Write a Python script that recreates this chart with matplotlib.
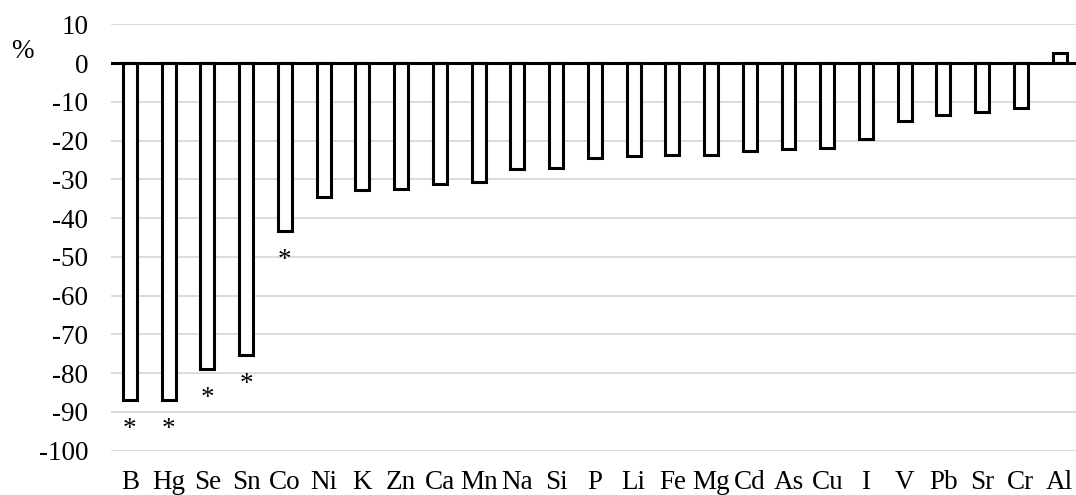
import matplotlib
matplotlib.use("Agg")
import matplotlib.pyplot as plt
import numpy as np

# percent change per element
elements = ["B", "Hg", "Se", "Sn", "Co", "Ni", "K", "Zn", "Ca", "Mn", "Na", "Si", "P",
            "Li", "Fe", "Mg", "Cd", "As", "Cu", "I", "V", "Pb", "Sr", "Cr", "Al"]
change = [-86.9, -86.9, -79.0, -75.4, -43.4, -34.6, -32.7, -32.4, -31.3, -30.6, -27.4,
          -27.0, -24.6, -24.1, -23.6, -23.7, -22.7, -22.2, -21.9, -19.7, -14.9, -13.5,
          -12.5, -11.5, 2.7]
# elements marked as significant
significant = ["B", "Hg", "Se", "Sn", "Co"]

yticks = np.arange(-100, 11, 10)

plt.rcParams["font.family"] = ["Liberation Serif", "DejaVu Serif"]
FS = 19.5

fig = plt.figure(figsize=(10.76, 4.95), dpi=100)
ax = fig.add_axes([0.1028, 0.0895, 0.900, 0.8614])

x = np.arange(len(elements))
ax.bar(x, change, width=0.36, color="white", edgecolor="black", linewidth=2.2, zorder=3)

for i, el in enumerate(elements):
    if el in significant:
        ax.text(i, change[i] - 7.6, "*", ha="center", va="center", fontsize=FS, zorder=4)

ax.axhline(0, color="black", linewidth=2.2, zorder=4)

ax.set_xlim(-0.5, len(elements) - 0.5)
ax.set_ylim(-100, 10)
ax.set_yticks(yticks)
ax.set_yticklabels([str(v) for v in yticks])
ax.set_xticks(x)
ax.set_xticklabels(elements)
ax.tick_params(axis="both", length=0, labelsize=FS)
ax.tick_params(axis="y", pad=16)
ax.tick_params(axis="x", pad=14)

ax.yaxis.grid(True, color="#d9d9d9", linewidth=1.3, zorder=0)
ax.set_axisbelow(True)
for s in ax.spines.values():
    s.set_visible(False)

fig.text(11 / 1076, 1 - 52 / 495, "%", ha="left", va="center", fontsize=FS)

fig.savefig("out.png", dpi=100)
